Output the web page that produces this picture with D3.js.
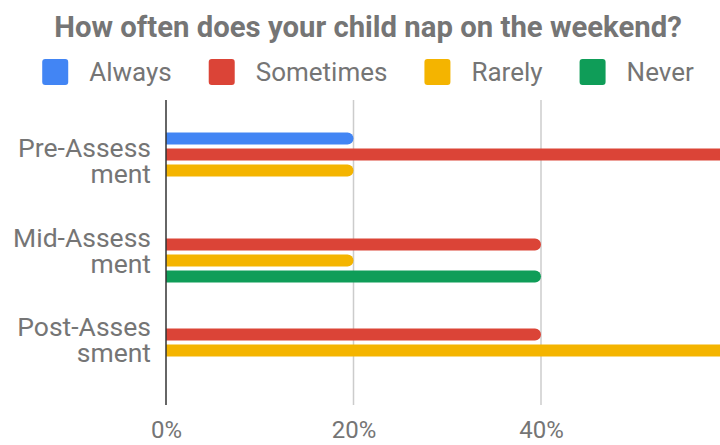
<!DOCTYPE html>
<html>
<head>
<meta charset="utf-8">
<script src="https://cdn.jsdelivr.net/npm/d3@7"></script>
<style>
  body { margin: 0; background: #fff; }
  svg { display: block; font-family: Roboto, "Noto Sans", sans-serif; }
</style>
</head>
<body>
<div id="chart"></div>
<script>
var categories = ["Pre-Assessment", "Mid-Assessment", "Post-Assessment"];
var seriesNames = ["Always", "Sometimes", "Rarely", "Never"];
var seriesColors = ["#4285F4", "#DB4437", "#F4B400", "#0F9D58"];
// share of answers, one array per series, in category order
var always = [0.2, 0, 0];
var sometimes = [0.6, 0.4, 0.4];
var rarely = [0.2, 0.2, 0.6];
var never = [0, 0.4, 0];
var xTicks = [0, 0.2, 0.4, 0.6];

var svgWidth = 720, svgHeight = 445;
var plot = { left: 166, top: 100, bottom: 405 };

var svg = d3.select("#chart").append("svg")
  .attr("width", svgWidth)
  .attr("height", svgHeight);

svg.append("text")
  .attr("x", 368)
  .attr("y", 37)
  .attr("text-anchor", "middle")
  .attr("font-size", 29.3)
  .attr("font-weight", "bold")
  .attr("fill", "#757575")
  .text("How often does your child nap on the weekend?");

// legend, centered
var legend = svg.append("g");
var lx = 0;
seriesNames.forEach(function(name, i) {
  var item = legend.append("g").attr("transform", "translate(" + lx + ",0)");
  item.append("rect")
    .attr("x", 0).attr("y", 59)
    .attr("width", 26).attr("height", 26)
    .attr("rx", 3)
    .attr("fill", seriesColors[i]);
  var t = item.append("text")
    .attr("x", 47).attr("y", 81)
    .attr("font-size", 26)
    .attr("fill", "#757575")
    .text(name);
  lx += 47 + t.node().getComputedTextLength() + 37;
});
var legendW = lx - 37;
legend.attr("transform", "translate(" + (368 - legendW / 2) + ",0)");

var x = d3.scaleLinear().domain([0, 0.6]).range([plot.left, plot.left + 3 * 187.5]);

var y0 = d3.scaleBand()
  .domain(categories)
  .range([plot.top, plot.bottom])
  .paddingInner(0.289)
  .paddingOuter(0.339);

var y1 = d3.scaleBand()
  .domain(seriesNames)
  .range([0, y0.bandwidth()])
  .paddingInner(0.25)
  .paddingOuter(0.125);

// gridlines
svg.append("g").selectAll("line")
  .data(xTicks.filter(function(d) { return d > 0; }))
  .enter().append("line")
  .attr("x1", function(d) { return x(d); })
  .attr("x2", function(d) { return x(d); })
  .attr("y1", plot.top).attr("y2", plot.bottom)
  .attr("stroke", "#cccccc")
  .attr("stroke-width", 1.5);

var table = categories.map(function(c, i) {
  return { cat: c, values: [always[i], sometimes[i], rarely[i], never[i]] };
});

function barPath(x0, x1, yt, h) {
  var r = h / 2;
  var w = x1 - x0;
  if (w <= 0) return "";
  if (w < r) r = w;
  return "M" + x0 + "," + yt +
    "H" + (x1 - r) +
    "A" + r + "," + (h / 2) + " 0 0 1 " + (x1 - r) + "," + (yt + h) +
    "H" + x0 + "Z";
}

var groups = svg.append("g").selectAll("g")
  .data(table)
  .enter().append("g")
  .attr("transform", function(d) { return "translate(0," + y0(d.cat) + ")"; });

groups.selectAll("path")
  .data(function(d) {
    return d.values.map(function(v, j) { return { name: seriesNames[j], value: v, color: seriesColors[j] }; });
  })
  .enter().append("path")
  .attr("d", function(d) { return barPath(x(0), x(d.value), y1(d.name), y1.bandwidth()); })
  .attr("fill", function(d) { return d.color; });

// baseline axis
svg.append("line")
  .attr("x1", x(0)).attr("x2", x(0))
  .attr("y1", plot.top).attr("y2", plot.bottom)
  .attr("stroke", "#333333")
  .attr("stroke-width", 1.5);

// x tick labels
var xAxis = d3.axisBottom(x)
  .tickValues(xTicks.slice(0, 3))
  .tickFormat(d3.format(".0%"))
  .tickSize(0)
  .tickPadding(0);
var xg = svg.append("g")
  .attr("transform", "translate(0,420)")
  .call(xAxis);
xg.select(".domain").remove();
xg.selectAll("text")
  .attr("font-size", 24)
  .attr("font-family", "Roboto, sans-serif")
  .attr("fill", "#757575")
  .attr("dy", "0.75em");

// category labels, wrapped at 10 characters, one text per line
var yAxis = d3.axisLeft(y0).tickSize(0);
var yg = svg.append("g")
  .attr("transform", "translate(" + (plot.left - 15) + ",0)")
  .call(yAxis);
yg.select(".domain").remove();
yg.selectAll(".tick text").remove();
yg.selectAll(".tick").each(function(d) {
  var tick = d3.select(this);
  [d.slice(0, 10), d.slice(10)].forEach(function(line, k) {
    tick.append("text")
      .attr("x", 0)
      .attr("y", -6 + k * 26)
      .attr("text-anchor", "end")
      .attr("font-size", 26.5)
      .attr("font-family", "Roboto, sans-serif")
      .attr("fill", "#757575")
      .text(line);
  });
});
</script>
</body>
</html>
